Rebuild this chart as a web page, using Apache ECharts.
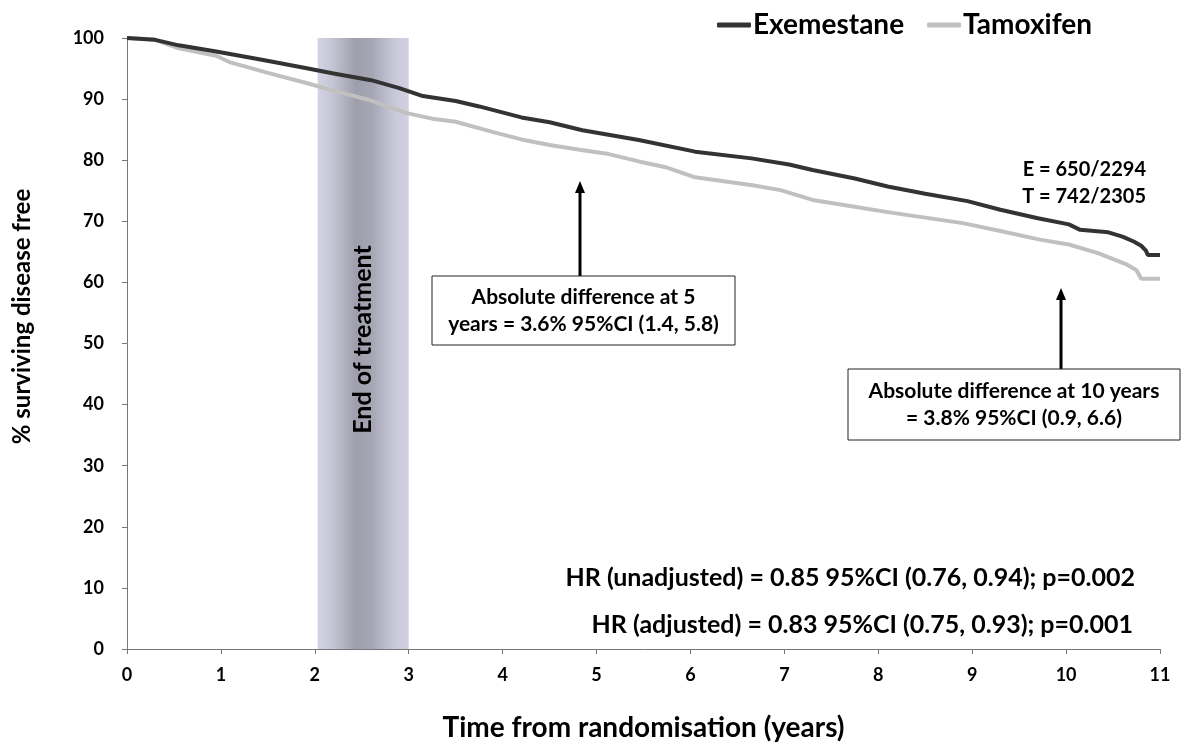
<!DOCTYPE html>
<html>
<head>
<meta charset="utf-8">
<script src="https://cdn.jsdelivr.net/npm/echarts@6/dist/echarts.min.js"></script>
<style>
  html, body { margin: 0; padding: 0; background: #fff; }
  #chart { width: 1188px; height: 747px; }
</style>
</head>
<body>
<div id="chart"></div>
<script>
// values: [years, % disease free]
var exemestane = [
    [0, 100], [0.3, 99.7], [0.55, 98.8], [0.95, 97.8], [1.45, 96.4], [1.9, 95.1],
    [2.2, 94.2], [2.6, 93.1], [2.9, 91.8], [3.15, 90.5], [3.5, 89.7], [3.75, 88.8],
    [4.2, 87.0], [4.5, 86.2], [4.85, 84.9], [5.45, 83.3], [6.05, 81.4], [6.65, 80.3],
    [7.05, 79.3], [7.3, 78.4], [7.75, 77.0], [8.1, 75.7], [8.5, 74.5], [8.95, 73.3],
    [9.3, 71.9], [9.7, 70.5], [10.03, 69.5], [10.15, 68.6], [10.45, 68.2], [10.6, 67.5],
    [10.72, 66.7], [10.8, 66.0], [10.85, 65.2], [10.87, 64.5], [11, 64.5]
];
var tamoxifen = [
    [0, 100], [0.3, 99.7], [0.55, 98.3], [0.95, 97.1], [1.1, 96.0], [1.5, 94.3],
    [1.92, 92.6], [2.17, 91.5], [2.57, 89.9], [2.98, 87.7], [3.25, 86.8], [3.5, 86.3],
    [3.9, 84.6], [4.2, 83.4], [4.5, 82.5], [4.82, 81.7], [5.13, 81.0], [5.45, 79.8],
    [5.75, 78.8], [6.05, 77.2], [6.66, 75.9], [6.96, 75.1], [7.3, 73.5], [7.7, 72.5],
    [8.1, 71.5], [8.5, 70.6], [8.9, 69.7], [9.3, 68.4], [9.72, 67.0], [10.03, 66.2],
    [10.34, 64.8], [10.65, 62.9], [10.75, 62.0], [10.8, 60.6], [11, 60.6]
];
var treatmentBand = [2.03, 3.0];
var seriesNames = ['Exemestane', 'Tamoxifen'];
var countLabels = ['E = 650/2294', 'T = 742/2305'];
var hrLabels = [
    'HR (unadjusted) = 0.85 95%CI (0.76, 0.94); p=0.002',
    'HR (adjusted) = 0.83 95%CI (0.75, 0.93); p=0.001'
];
var note5 = ['Absolute difference at 5', 'years = 3.6% 95%CI (1.4, 5.8)'];
var note10 = ['Absolute difference at 10 years', '= 3.8% 95%CI (0.9, 6.6)'];

var FONT = 'Lato';

var dom = document.getElementById('chart');
var myChart = echarts.init(dom, null, { renderer: 'canvas' });

function arrow(x, yTop, yBottom) {
    return [
        {
            type: 'line',
            shape: { x1: x, y1: yTop + 10, x2: x, y2: yBottom },
            style: { stroke: '#000', lineWidth: 3 }
        },
        {
            type: 'polygon',
            shape: { points: [[x, yTop], [x - 5, yTop + 12], [x + 5, yTop + 12]] },
            style: { fill: '#000' }
        }
    ];
}

function noteBox(x, y, w, h, lines) {
    return {
        type: 'group',
        children: [
            {
                type: 'rect',
                shape: { x: x, y: y, width: w, height: h },
                style: { fill: '#fff', stroke: '#222', lineWidth: 1 }
            },
            {
                type: 'text',
                x: x + w / 2,
                y: y + h / 2,
                style: {
                    text: lines.join('\n'),
                    align: 'center',
                    verticalAlign: 'middle',
                    lineHeight: 27,
                    font: 'bold 21px ' + FONT,
                    fill: '#000'
                }
            }
        ]
    };
}

function plainText(x, y, txt, size) {
    return {
        type: 'text', x: x, y: y,
        style: { text: txt, align: 'right', verticalAlign: 'middle', font: 'bold ' + size + 'px ' + FONT, fill: '#000' }
    };
}

var option = {
    animation: false,
    backgroundColor: '#fff',
    textStyle: { fontFamily: FONT },
    grid: { left: 127, right: 28, top: 38, bottom: 96 },
    legend: {
        data: seriesNames,
        left: 712,
        top: 6,
        icon: 'roundRect',
        itemWidth: 34,
        itemHeight: 5,
        itemGap: 23,
        textStyle: { fontSize: 28, fontWeight: 'bold', color: '#000', fontFamily: FONT, padding: [0, 0, 0, -3] }
    },
    xAxis: {
        type: 'value',
        min: 0,
        max: 11,
        interval: 1,
        name: 'Time from randomisation (years)',
        nameLocation: 'middle',
        nameGap: 65,
        nameTextStyle: { fontSize: 28, fontWeight: 'bold', color: '#000' },
        axisLine: { lineStyle: { color: '#777', width: 1 } },
        axisTick: { length: 5, lineStyle: { color: '#777' } },
        axisLabel: { fontSize: 18, fontWeight: 'bold', color: '#000', margin: 17 },
        splitLine: { show: false }
    },
    yAxis: {
        type: 'value',
        min: 0,
        max: 100,
        interval: 10,
        name: '% surviving disease free',
        nameLocation: 'middle',
        nameGap: 93,
        nameRotate: 90,
        nameTextStyle: { fontSize: 24, fontWeight: 'bold', color: '#000', padding: [0, 0, 0, 54] },
        axisLine: { show: true, lineStyle: { color: '#777', width: 1 } },
        axisTick: { show: true, length: 5, lineStyle: { color: '#777' } },
        axisLabel: { fontSize: 18, fontWeight: 'bold', color: '#000', margin: 23 },
        splitLine: { show: false }
    },
    series: [
        {
            name: seriesNames[0],
            type: 'line',
            data: exemestane,
            showSymbol: false,
            symbol: 'none',
            z: 3,
            lineStyle: { color: '#333333', width: 4 },
            itemStyle: { color: '#333333' },
            markArea: {
                silent: true,
                itemStyle: {
                    color: new echarts.graphic.LinearGradient(0, 0, 1, 0, [
                        { offset: 0, color: '#d3d3e3' },
                        { offset: 0.15, color: '#c6c6d6' },
                        { offset: 0.42, color: '#9e9eac' },
                        { offset: 0.6, color: '#a6a6b5' },
                        { offset: 0.85, color: '#c9c9da' },
                        { offset: 1, color: '#d1d1e2' }
                    ])
                },
                label: {
                    show: true,
                    position: 'inside',
                    rotate: 90,
                    formatter: 'End of treatment',
                    fontSize: 25,
                    fontWeight: 'bold',
                    color: '#000',
                    fontFamily: FONT,
                    offset: [4, 0]
                },
                data: [[{ xAxis: treatmentBand[0], yAxis: 0 }, { xAxis: treatmentBand[1], yAxis: 100 }]]
            }
        },
        {
            name: seriesNames[1],
            type: 'line',
            data: tamoxifen,
            showSymbol: false,
            symbol: 'none',
            z: 2,
            lineStyle: { color: '#c0c0c0', width: 4 },
            itemStyle: { color: '#c0c0c0' }
        }
    ],
    graphic: [].concat(
        arrow(580, 181, 276),
        arrow(1061, 288, 369),
        [
            noteBox(432, 276, 303, 69, note5),
            noteBox(848, 369, 332, 71, note10),
            plainText(1146, 170, countLabels[0], 20),
            plainText(1146, 197, countLabels[1], 20),
            plainText(1135, 578, hrLabels[0], 25),
            plainText(1133, 625, hrLabels[1], 25)
        ]
    )
};

myChart.setOption(option);
window.addEventListener('resize', myChart.resize);
</script>
</body>
</html>
